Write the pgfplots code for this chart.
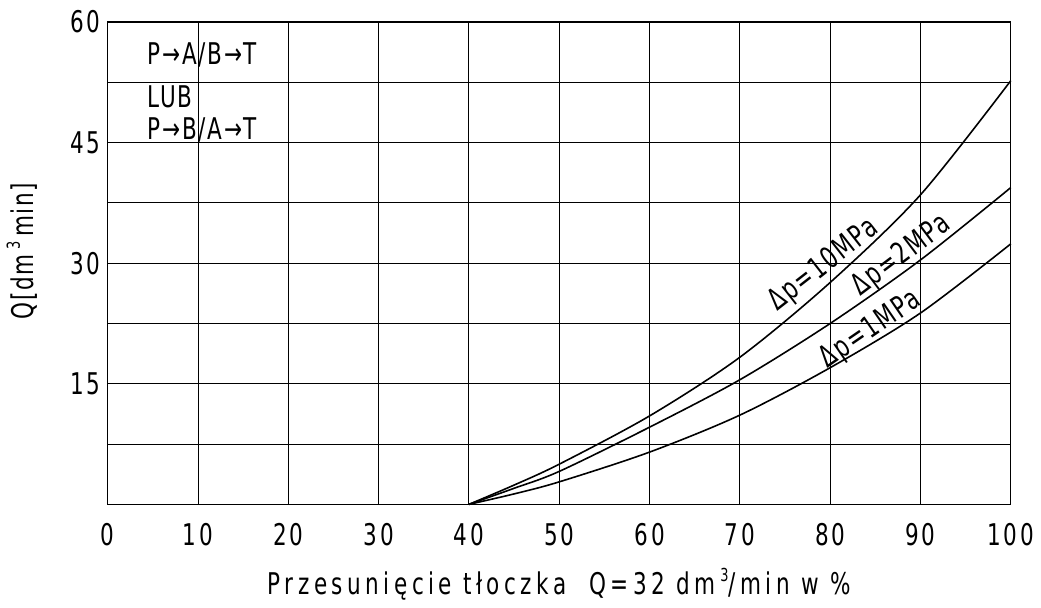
\documentclass[border=0pt]{standalone}
\usepackage{pgfplots}
\pgfplotsset{compat=1.18}
\usepackage{fontspec}
\setmainfont{DejaVu Sans}[FakeStretch=0.72,LetterSpace=10]
\newfontfamily\xlf{DejaVu Sans}[FakeStretch=0.72,LetterSpace=15]
\newfontfamily\ylf{DejaVu Sans}[FakeStretch=0.72,LetterSpace=5]
\newfontfamily\anf{DejaVu Sans}[FakeStretch=0.72,LetterSpace=6]
\newcommand\f{\fontsize{15}{18}\selectfont}
\begin{document}
\begin{tikzpicture}
\begin{axis}[
  name=ax,
  scale only axis,
  width=453pt, height=242pt,
  xmin=0, xmax=100, ymin=0, ymax=60,
  xtick={0,10,...,100},
  xticklabels={0,10,20,30,40,50,60,70,80,90,100},
  ytick={7.5,15,22.5,30,37.5,45,52.5,60},
  yticklabels={{},15,{},30,{},45,{},60},
  /pgf/number format/assume math mode=true,
  tick style={draw=none},
  grid=major,
  grid style={black, line width=0.5pt},
  axis line style={black, line width=0.6pt},
  tick label style={font=\f},
  xticklabel style={yshift=-6pt},
  xlabel={Przesunięcie tłoczka\ \ Q=32 dm\,\raisebox{0.45em}{\small 3}/min w \%},
  ylabel={Q[dm\,\raisebox{0.45em}{\small 3}\,min]},
  every axis x label/.style={at={(axis description cs:0.5,0)}, yshift=-40pt, anchor=center, font=\xlf\f},
  every axis y label/.style={at={(axis description cs:0,0.5)}, xshift=-43pt, yshift=6pt, rotate=90, anchor=center, font=\ylf\f},
  clip=false,
]
% dp = 10 MPa
\addplot[black, line width=0.8pt, smooth] coordinates {
 (40,0) (45,2.4) (50,5.0) (60,11.0) (70,18.3) (80,27.6) (90,38.5) (100,52.7)};
% dp = 2 MPa
\addplot[black, line width=0.8pt, smooth] coordinates {
 (40,0) (45,2.0) (50,4.1) (60,9.6) (70,15.5) (80,22.5) (90,30.4) (100,39.4)};
% dp = 1 MPa
\addplot[black, line width=0.8pt, smooth] coordinates {
 (40,0) (45,1.3) (50,2.8) (60,6.5) (70,11.1) (80,17.0) (90,23.8) (100,32.4)};

\node[font=\anf\f, rotate=38, inner sep=0pt] at (axis cs:79.3,29.7) {Δp=10MPa};
\node[font=\anf\f, rotate=37, inner sep=0pt] at (axis cs:87.9,30.9) {Δp=2MPa};
\node[font=\anf\f, rotate=34.5, inner sep=0pt] at (axis cs:84.5,21.7) {Δp=1MPa};

\node[font=\anf\f, anchor=west, inner sep=0pt] at (axis cs:4.35,55.9) {P→A/B→T};
\node[font=\anf\f, anchor=west, inner sep=0pt] at (axis cs:4.35,50.7) {LUB};
\node[font=\anf\f, anchor=west, inner sep=0pt] at (axis cs:4.35,46.6) {P→B/A→T};
\end{axis}
\path ([xshift=-53.85pt, yshift=-51pt]ax.south west) rectangle ([xshift=13.65pt, yshift=11pt]ax.north east);
\end{tikzpicture}
\end{document}
